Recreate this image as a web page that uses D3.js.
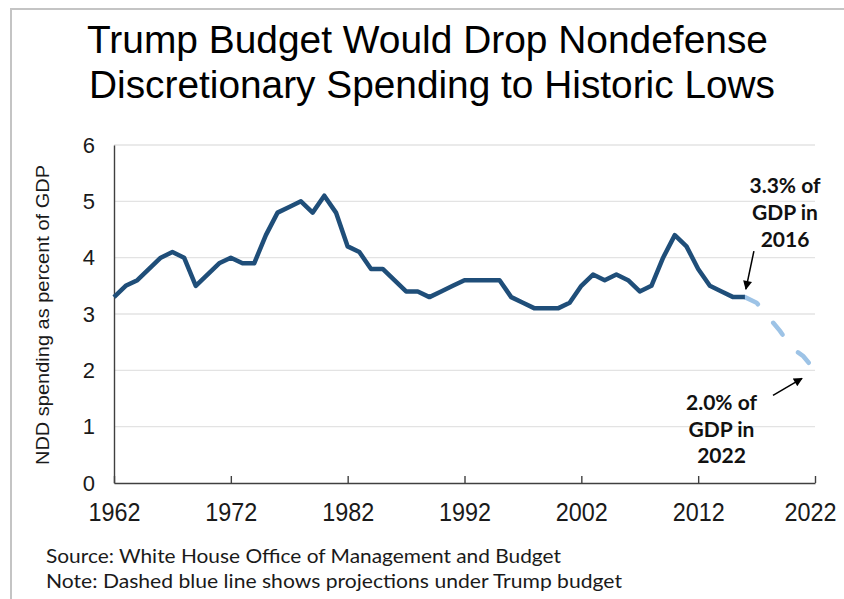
<!DOCTYPE html>
<html>
<head>
<meta charset="utf-8">
<script src="https://cdn.jsdelivr.net/npm/d3@7"></script>
<style>
  html, body { margin: 0; padding: 0; background: #fff; }
  svg { display: block; }
</style>
</head>
<body>
<svg id="chart" width="844" height="599"></svg>
<script>
// ---- Data ----
const histYears = d3.range(1962, 2017);
const histValues = [
  3.3, 3.5, 3.6, 3.8, 4.0, 4.1, 4.0, 3.5, 3.7, 3.9,   // 1962-1971
  4.0, 3.9, 3.9, 4.4, 4.8, 4.9, 5.0, 4.8, 5.1, 4.8,   // 1972-1981
  4.2, 4.1, 3.8, 3.8, 3.6, 3.4, 3.4, 3.3, 3.4, 3.5,   // 1982-1991
  3.6, 3.6, 3.6, 3.6, 3.3, 3.2, 3.1, 3.1, 3.1, 3.2,   // 1992-2001
  3.5, 3.7, 3.6, 3.7, 3.6, 3.4, 3.5, 4.0, 4.4, 4.2,   // 2002-2011
  3.8, 3.5, 3.4, 3.3, 3.3                             // 2012-2016
];
const projYears = [2016, 2017, 2018, 2019, 2020, 2021, 2022];
const projValues = [3.3, 3.2, 2.95, 2.7, 2.4, 2.25, 2.0];
const xTicks = [1962, 1972, 1982, 1992, 2002, 2012, 2022];
const yTicks = [0, 1, 2, 3, 4, 5, 6];
const titleLines = ["Trump Budget Would Drop Nondefense", "Discretionary Spending to Historic Lows"];
const yAxisTitle = "NDD spending as percent of GDP";
const noteTop = ["3.3% of", "GDP in", "2016"];
const noteBottom = ["2.0% of", "GDP in", "2022"];
const footer = ["Source: White House Office of Management and Budget",
                "Note: Dashed blue line shows projections under Trump budget"];

// ---- Setup ----
const svg = d3.select("#chart");
const x = d3.scaleLinear().domain([1962, 2022]).range([114, 815]);
const y = d3.scaleLinear().domain([0, 6]).range([483, 145]);

// frame
svg.append("rect")
  .attr("x", 11).attr("y", 9).attr("width", 900).attr("height", 700)
  .attr("fill", "none").attr("stroke", "#c4c4c4").attr("stroke-width", 2);

// title
const titleWidths = [681, 686];
const titleX = [87, 89];
const titleY = [53, 98];
titleLines.forEach((t, i) => {
  svg.append("text")
    .attr("x", titleX[i]).attr("y", titleY[i])
    .attr("font-family", "Liberation Sans, Arial, sans-serif")
    .attr("font-size", 38)
    .attr("fill", "#000")
    .attr("textLength", titleWidths[i])
    .attr("lengthAdjust", "spacingAndGlyphs")
    .text(t);
});

// gridlines
svg.append("g")
  .selectAll("line")
  .data(yTicks.filter(d => d > 0))
  .join("line")
  .attr("x1", x(1962)).attr("x2", x(2022))
  .attr("y1", d => y(d)).attr("y2", d => y(d))
  .attr("stroke", "#e3e3e3").attr("stroke-width", 1.3);

// x axis
const xAxis = svg.append("g")
  .attr("transform", `translate(0,${y(0)})`)
  .call(d3.axisBottom(x).tickValues(xTicks).tickFormat(d3.format("d"))
    .tickSizeInner(-7).tickSizeOuter(0).tickPadding(20));
xAxis.select(".domain").attr("stroke", "#404040").attr("stroke-width", 1.4);
xAxis.selectAll(".tick line").attr("stroke", "#404040").attr("stroke-width", 1.4);
xAxis.selectAll(".tick text")
  .attr("font-family", "Liberation Sans, Arial, sans-serif")
  .attr("font-size", 26)
  .attr("fill", "#1a1a1a")
  .attr("textLength", 52)
  .attr("lengthAdjust", "spacingAndGlyphs")
  .attr("dx", d => d === 2022 ? -5 : 0);

// y axis
const yAxis = svg.append("g")
  .attr("transform", `translate(${x(1962)},0)`)
  .call(d3.axisLeft(y).tickValues(yTicks).tickFormat(d3.format("d")).tickSize(0).tickPadding(19));
yAxis.select(".domain").attr("stroke", "#404040").attr("stroke-width", 1.4);
yAxis.selectAll(".tick text")
  .attr("font-family", "Liberation Sans, Arial, sans-serif")
  .attr("font-size", 22)
  .attr("fill", "#1a1a1a");

// y axis title
svg.append("text")
  .attr("transform", `translate(49,${(y(0) + y(6)) / 2 + 1}) rotate(-90)`)
  .attr("text-anchor", "middle")
  .attr("font-family", "Liberation Sans, Arial, sans-serif")
  .attr("font-size", 17.5)
  .attr("fill", "#1a1a1a")
  .attr("textLength", 300)
  .attr("lengthAdjust", "spacingAndGlyphs")
  .text(yAxisTitle);

// lines
const line = d3.line().x(d => x(d[0])).y(d => y(d[1]));
svg.append("path")
  .datum(projYears.map((yr, i) => [yr, projValues[i]]))
  .attr("d", line)
  .attr("fill", "none")
  .attr("stroke", "#9DC3E6")
  .attr("stroke-width", 4.5)
  .attr("stroke-linecap", "round")
  .attr("stroke-dasharray", "15,24");
svg.append("path")
  .datum(histYears.map((yr, i) => [yr, histValues[i]]))
  .attr("d", line)
  .attr("fill", "none")
  .attr("stroke", "#1F4E79")
  .attr("stroke-width", 4.5)
  .attr("stroke-linejoin", "round");

// arrow marker
svg.append("defs").append("marker")
  .attr("id", "arrow")
  .attr("viewBox", "0 0 10 10")
  .attr("refX", 9).attr("refY", 5)
  .attr("markerUnits", "userSpaceOnUse")
  .attr("markerWidth", 11).attr("markerHeight", 9)
  .attr("orient", "auto")
  .append("path").attr("d", "M0,0 L10,5 L0,10 Z").attr("fill", "#000");

// annotation arrows (anchored on data points)
const p16 = [x(2016), y(3.3)];
svg.append("line")
  .attr("x1", p16[0] + 9).attr("y1", p16[1] - 46)
  .attr("x2", p16[0] + 1).attr("y2", p16[1] - 8)
  .attr("stroke", "#000").attr("stroke-width", 1.5)
  .attr("marker-end", "url(#arrow)");
const p22 = [x(2022), y(2.0)];
svg.append("line")
  .attr("x1", p22[0] - 42).attr("y1", p22[1] + 25)
  .attr("x2", p22[0] - 13).attr("y2", p22[1] + 8)
  .attr("stroke", "#000").attr("stroke-width", 1.5)
  .attr("marker-end", "url(#arrow)");

// annotation texts
function note(lines, cx, baselines) {
  lines.forEach((t, i) => {
    svg.append("text")
      .attr("x", cx).attr("y", baselines[i])
      .attr("text-anchor", "middle")
      .attr("font-family", "Lato, Carlito, sans-serif")
      .attr("font-weight", "bold")
      .attr("font-size", 21)
      .attr("fill", "#111")
      .text(t);
  });
}
note(noteTop, 785, [193, 220, 247]);
note(noteBottom, 721.5, [410, 437, 463]);

// footer
const footerWidths = [515, 576];
const footerY = [563, 588];
footer.forEach((t, i) => {
  svg.append("text")
    .attr("x", 46).attr("y", footerY[i])
    .attr("font-family", "Lato, Carlito, sans-serif")
    .attr("font-size", 20)
    .attr("fill", "#1a1a1a")
    .attr("textLength", footerWidths[i])
    .attr("lengthAdjust", "spacingAndGlyphs")
    .text(t);
});
</script>
</body>
</html>
